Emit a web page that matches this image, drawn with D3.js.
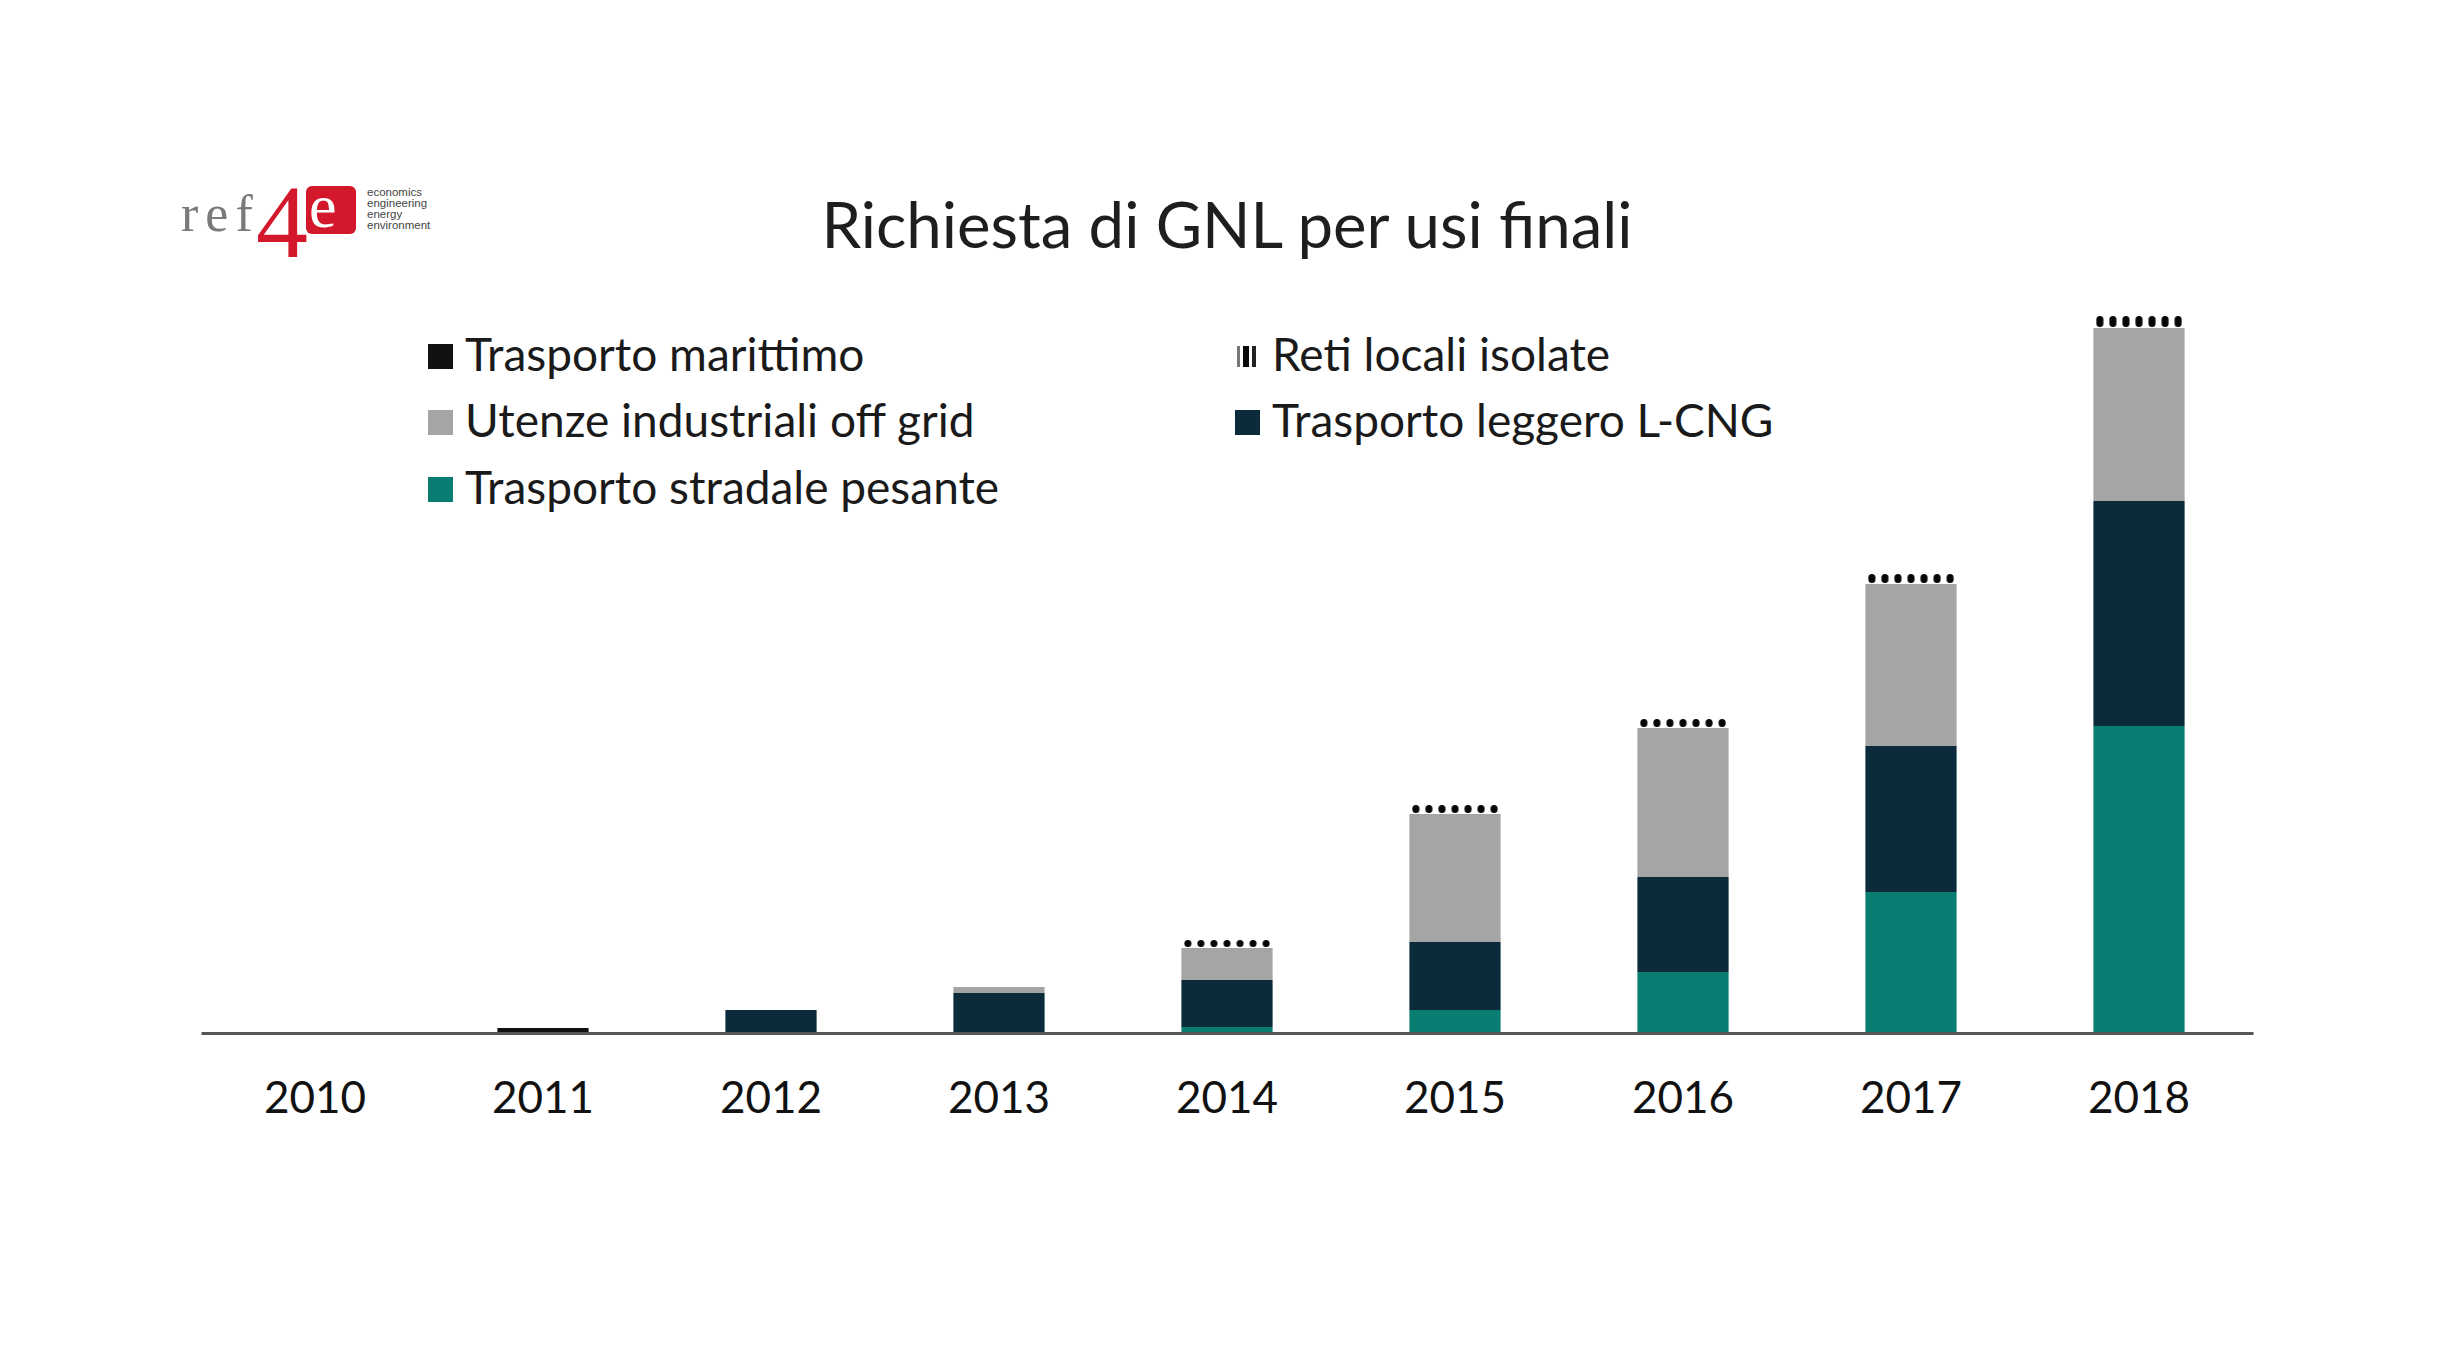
<!DOCTYPE html>
<html>
<head>
<meta charset="utf-8">
<script src="https://cdn.jsdelivr.net/npm/d3@7"></script>
<style>
  html, body { margin: 0; padding: 0; background: #ffffff; }
  svg { display: block; }
</style>
</head>
<body>
<svg id="chart" width="2457" height="1360"></svg>
<script>
// ---------- DATA ----------
const years = ["2010", "2011", "2012", "2013", "2014", "2015", "2016", "2017", "2018"];
const stradalePesante   = [0, 0,   0,   0,   0.6, 2.3,  6.1,  14.1, 30.7];
const leggeroLCNG       = [0, 0,   2.3, 4.0, 4.7, 6.8,  9.5,  14.6, 22.5];
const marittimo         = [0, 0.5, 0,   0,   0,   0,    0,    0,    0];
const industrialiOff    = [0, 0,   0,   0.6, 3.2, 12.8, 14.9, 16.2, 17.3];
const retiLocali        = [0, 0,   0,   0,   0.8, 0.9,  0.9,  1.0,  1.2];

const seriesKeys   = ["pesante", "leggero", "marittimo", "industriali", "reti"];
const seriesLabels = {
  marittimo: "Trasporto marittimo",
  reti: "Reti locali isolate",
  industriali: "Utenze industriali off grid",
  leggero: "Trasporto leggero L-CNG",
  pesante: "Trasporto stradale pesante"
};
const legendOrder = [["marittimo", "reti"], ["industriali", "leggero"], ["pesante"]];
const titleText = "Richiesta di GNL per usi finali";

// ---------- STYLE ----------
const colors = {
  pesante: "#0a7d72",
  leggero: "#0b2b3a",
  marittimo: "#111111",
  industriali: "#a5a5a5"
};
const FONT = "Lato, 'Open Sans', sans-serif";

const rows = years.map((y, i) => ({
  year: y,
  pesante: stradalePesante[i],
  leggero: leggeroLCNG[i],
  marittimo: marittimo[i],
  industriali: industrialiOff[i],
  reti: retiLocali[i]
}));

const svg = d3.select("#chart");

// ---------- SCALES ----------
const baseY = 1033;
const x = d3.scaleBand().domain(years).range([201, 2253]).paddingInner(0.6).paddingOuter(0.3);
const y = d3.scaleLinear().domain([0, 80]).range([baseY, baseY - 800]);

const stacked = d3.stack().keys(seriesKeys)(rows);

// ---------- PATTERNS (dotted "Reti locali isolate") ----------
const defs = svg.append("defs");
stacked.find(s => s.key === "reti").forEach(d => {
  const h = y(d[0]) - y(d[1]);
  if (h <= 0) return;
  const bx = x(d.data.year);
  const step = x.bandwidth() / 7;
  const p = defs.append("pattern")
    .attr("id", "reti_" + d.data.year)
    .attr("patternUnits", "userSpaceOnUse")
    .attr("x", bx).attr("y", y(d[1]))
    .attr("width", step).attr("height", h + 6);
  p.append("rect").attr("width", step).attr("height", h + 6).attr("fill", "#ffffff");
  p.append("rect")
    .attr("x", step / 2 - 3.5).attr("y", 0)
    .attr("width", 7).attr("height", Math.max(h - 1, 4))
    .attr("rx", 3.5).attr("fill", "#050505");
});

// ---------- BARS ----------
const layers = svg.append("g").selectAll("g")
  .data(stacked)
  .join("g");

layers.selectAll("rect")
  .data(s => s.map(d => Object.assign(d, { key: s.key })))
  .join("rect")
  .attr("x", d => x(d.data.year))
  .attr("width", x.bandwidth())
  .attr("y", d => y(d[1]))
  .attr("height", d => Math.max(0, y(d[0]) - y(d[1])))
  .attr("fill", d => d.key === "reti" ? "url(#reti_" + d.data.year + ")" : colors[d.key]);

// ---------- AXIS ----------
const axisG = svg.append("g")
  .attr("transform", `translate(0,${baseY})`)
  .call(d3.axisBottom(x).tickSize(0).tickPadding(0));
axisG.select(".domain").attr("stroke", "#555555").attr("stroke-width", 3);
axisG.selectAll("text")
  .attr("y", 80).attr("dy", 0)
  .attr("font-family", FONT)
  .attr("font-size", 44)
  .attr("fill", "#111111");

// ---------- TITLE ----------
svg.append("text")
  .attr("x", 1227).attr("y", 248)
  .attr("text-anchor", "middle")
  .attr("font-family", FONT)
  .attr("font-size", 63.5)
  .attr("fill", "#1e1e1e")
  .text(titleText);

// ---------- LEGEND ----------
const legCols = [428, 1235];
const legRows = [356, 422, 489];
const leg = svg.append("g");
legendOrder.forEach((row, ri) => {
  row.forEach((key, ci) => {
    const gx = legCols[ci], gy = legRows[ri];
    const g = leg.append("g").attr("transform", `translate(${gx},${gy})`);
    if (key === "reti") {
      g.append("rect").attr("x", 2).attr("y", -10).attr("width", 3).attr("height", 21).attr("fill", "#777");
      g.append("rect").attr("x", 8).attr("y", -10).attr("width", 6).attr("height", 21).attr("fill", "#0a0a0a");
      g.append("rect").attr("x", 17).attr("y", -10).attr("width", 4).attr("height", 21).attr("fill", "#222");
    } else {
      g.append("rect").attr("x", 0).attr("y", -12).attr("width", 25).attr("height", 25).attr("fill", colors[key]);
    }
    g.append("text")
      .attr("x", 37).attr("y", 15)
      .attr("font-family", FONT)
      .attr("font-size", 46)
      .attr("fill", "#1a1a1a")
      .text(seriesLabels[key]);
  });
});

// ---------- LOGO ----------
const logo = svg.append("g");
logo.append("text")
  .attr("x", 181).attr("y", 231)
  .attr("font-family", "'Liberation Serif', serif")
  .attr("font-size", 52)
  .attr("letter-spacing", 7)
  .attr("fill", "#7a7a7a")
  .text("ref");
logo.append("rect")
  .attr("x", 306).attr("y", 186).attr("width", 50).attr("height", 48).attr("rx", 6)
  .attr("fill", "#d3182c");
logo.append("text")
  .attr("x", 256).attr("y", 257)
  .attr("font-family", "'Liberation Serif', serif")
  .attr("font-size", 104)
  .attr("fill", "#d3182c")
  .text("4");
logo.append("text")
  .attr("x", 309).attr("y", 227)
  .attr("font-family", "'Liberation Serif', serif")
  .attr("font-size", 62)
  .attr("fill", "#ffffff")
  .text("e");
["economics", "engineering", "energy", "environment"].forEach((t, i) => {
  logo.append("text")
    .attr("x", 367).attr("y", 196 + i * 11)
    .attr("font-family", "'Liberation Sans', Arial, sans-serif")
    .attr("font-size", 11.5)
    .attr("fill", "#444")
    .text(t);
});
</script>
</body>
</html>
